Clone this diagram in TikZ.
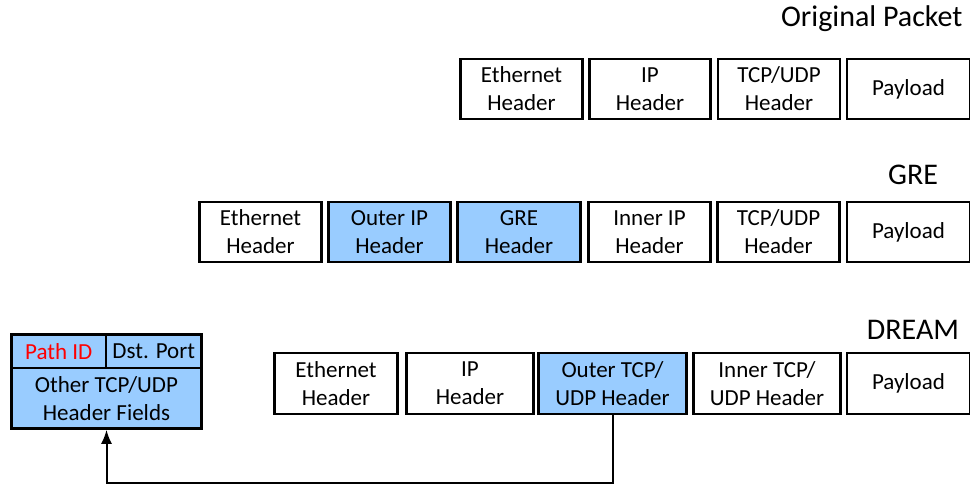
\documentclass[tikz,border=0pt]{standalone}
\usepackage{fontspec}
\setmainfont{Carlito}
\usetikzlibrary{arrows.meta}
\definecolor{hdrblue}{RGB}{153,204,255}
\begin{document}
\begin{tikzpicture}[x=1pt,y=-1pt,>={Latex[length=14pt,width=11pt]},
  hdr/.style={draw,line width=2.6pt,minimum height=60pt,inner sep=0pt,align=center,
    font=\fontsize{23}{28}\selectfont},
  field/.style={hdr,fill=hdrblue},
  title/.style={font=\fontsize{30}{34}\selectfont}]
\useasboundingbox (0,0) rectangle (970,485);
\begin{scope}
\clip (0,0) rectangle (970,485);
% original packet
\node[title,anchor=east] (orig) at (966,19) {Original Packet};
\path
(521.5,89)   node[hdr,minimum width=122pt] (eth1) {Ethernet\\Header}
(650,89)     node[hdr,minimum width=121pt] (ip1)  {IP\\Header}
(779,89)     node[hdr,minimum width=122pt] (tcp1) {TCP/UDP\\Header}
(908.5,89)   node[hdr,minimum width=123pt] (pay1) {Payload};
% GRE
\node[title] (gre) at (913,175) {GRE};
\path
(260.5,232) node[hdr,minimum width=122pt]   (eth2)  {Ethernet\\Header}
(389.5,232) node[field,minimum width=122pt] (oip2)  {Outer IP\\Header}
(519,232)   node[field,minimum width=123pt] (gre2)  {GRE\\Header}
(649.5,232) node[hdr,minimum width=122pt]   (iip2)  {Inner IP\\Header}
(778.5,232) node[hdr,minimum width=122pt]   (tcp2)  {TCP/UDP\\Header}
(908.5,232) node[hdr,minimum width=123pt]   (pay2)  {Payload};
% DREAM
\node[title] (dream) at (913,330) {DREAM};
\path
(336,383.5)   node[hdr,minimum height=61pt,minimum width=123pt]   (eth3)  {Ethernet\\Header}
(470,383.5)   node[hdr,minimum height=61pt,minimum width=127pt]   (ip3)   {IP\\Header}
(612.5,383.5) node[field,minimum height=61pt,minimum width=148pt] (otcp3) {Outer TCP/\\UDP Header}
(767,383.5)   node[hdr,minimum height=61pt,minimum width=147pt]   (itcp3) {Inner TCP/\\UDP Header}
(908.5,383.5) node[hdr,minimum height=61pt,minimum width=123pt]   (pay3)  {Payload};
% outer header fields
\path
(58.75,351.25)  node[field,minimum height=33.5pt,minimum width=94.5pt] (pid)   {\color{red}Path ID}
(153.75,351.25) node[field,minimum height=33.5pt,minimum width=95.5pt] (dport) {Dst. Port}
(106.5,398.25)  node[field,minimum height=60.5pt,minimum width=190pt]  (other) {Other TCP/UDP\\Header Fields};
\draw[->,line width=2pt] (otcp3.south) -- ++(0,68) -| (other.south);
\end{scope}
\end{tikzpicture}
\end{document}
